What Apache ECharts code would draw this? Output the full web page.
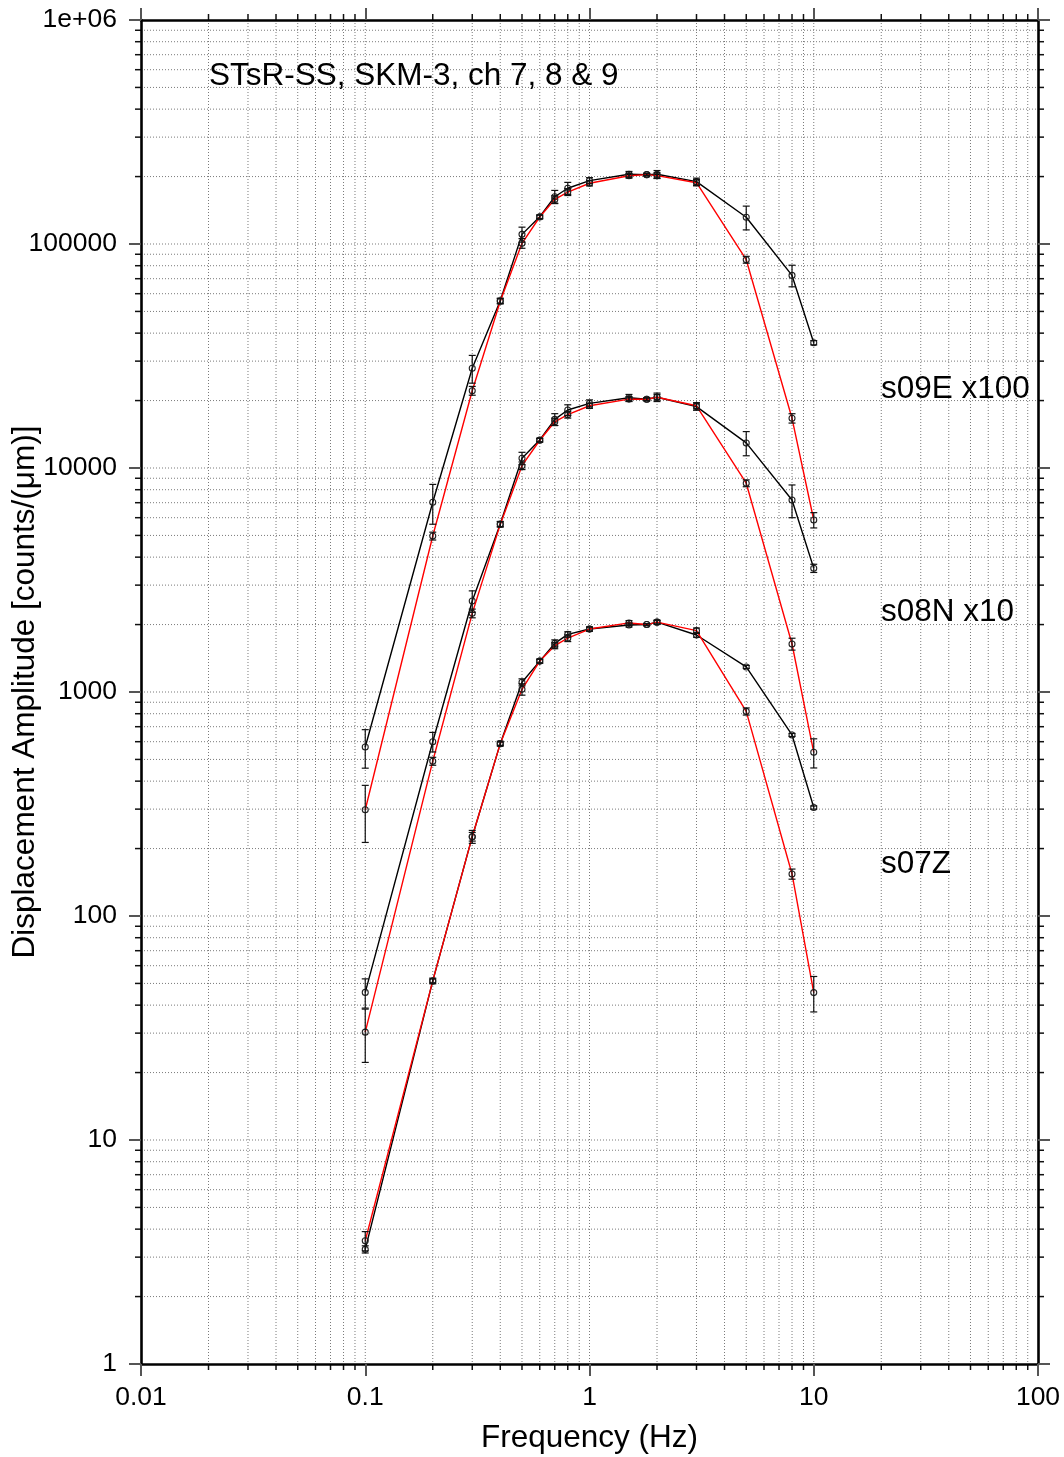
<!DOCTYPE html>
<html><head><meta charset="utf-8">
<script src="https://cdn.jsdelivr.net/npm/echarts@6/dist/echarts.min.js"></script>
<style>html,body{margin:0;padding:0;background:#fff}#c{width:1064px;height:1457px}</style>
</head><body><div id="c"></div>
<script>
// ---------------- data ----------------
const freqs = [0.1, 0.2, 0.3, 0.4, 0.5, 0.6, 0.7, 0.8, 1, 1.5, 1.8, 2, 3, 5, 8, 10];

// s09E (plotted x100)
const s09E_black     = [568, 7030, 27870, 55800, 110400, 132400, 162500, 177400, 191800, 204800, 204000, 204800, 189800, 131600, 72400, 36250];
const s09E_black_err = [111, 1420, 3950, 1500, 8500, 2500, 11000, 11000, 6000, 6000, 3000, 8000, 7000, 16000, 8000, 800];
const s09E_red       = [298, 4970, 22130, 55500, 100700, 132000, 158200, 170600, 186700, 201800, 204000, 202000, 187800, 85100, 16670, 5860];
const s09E_red_err   = [85, 200, 1000, 1500, 5000, 2500, 6000, 6000, 5000, 5000, 2000, 6000, 6000, 3000, 800, 460];

// s08N (plotted x10)
const s08N_black     = [45.6, 600, 2548, 5623, 11050, 13340, 16480, 18150, 19440, 20600, 20270, 20700, 18800, 12940, 7200, 3567];
const s08N_black_err = [6.8, 60, 280, 150, 700, 250, 1000, 1000, 700, 700, 300, 900, 700, 1600, 1200, 150];
const s08N_red       = [30.3, 491, 2244, 5600, 10240, 13300, 16080, 17300, 18960, 20300, 20270, 20700, 18960, 8550, 1638, 538];
const s08N_red_err   = [8.1, 20, 100, 150, 400, 250, 600, 600, 500, 500, 300, 600, 600, 300, 100, 80];

// s07Z
const s07Z_black     = [3.25, 51.3, 226, 588, 1105, 1374, 1649, 1808, 1910, 1990, 2000, 2050, 1796, 1294, 643, 305];
const s07Z_black_err = [0.12, 1, 10, 10, 40, 25, 60, 50, 40, 40, 20, 40, 40, 20, 10, 5];
const s07Z_red       = [3.55, 51.3, 226, 588, 1028, 1374, 1610, 1739, 1910, 2034, 2000, 2050, 1880, 819, 154, 45.5];
const s07Z_red_err   = [0.35, 1.5, 15, 15, 60, 30, 50, 60, 40, 50, 20, 40, 50, 30, 8, 8.2];

const xTickValues = [0.01, 0.1, 1, 10, 100];
const xTickLabels = ['0.01', '0.1', '1', '10', '100'];
const yTickValues = [1, 10, 100, 1000, 10000, 100000, 1000000];
const yTickLabels = ['1', '10', '100', '1000', '10000', '100000', '1e+06'];

const plotTitle = 'STsR-SS, SKM-3, ch 7, 8 & 9';
const curveNames = ['s09E x100', 's08N x10', 's07Z'];
const xAxisTitle = 'Frequency (Hz)';
const yAxisTitle = 'Displacement Amplitude [counts/(\u03bcm)]';

// ---------------- chart ----------------
const FONT = '"Liberation Sans", Arial, Helvetica, sans-serif';
const chart = echarts.init(document.getElementById('c'), null, {renderer: 'canvas'});

function pair(ys) { return freqs.map((f, i) => [f, ys[i]]); }
function errData(ys, es) { return freqs.map((f, i) => [f, ys[i], es[i]]); }

function lineSeries(ys, color, z) {
  return {
    type: 'line', data: pair(ys), z: z,
    symbol: 'circle', symbolSize: 6,
    itemStyle: {color: 'rgba(255,255,255,0)', borderColor: '#222', borderWidth: 1.1},
    lineStyle: {color: color, width: 1.4},
    animation: false, silent: true
  };
}
function errSeries(ys, es) {
  return {
    type: 'custom', data: errData(ys, es), z: 5, clip: false, animation: false, silent: true,
    renderItem: function (params, api) {
      const x = api.value(0), v = api.value(1), e = api.value(2);
      const lo = Math.max(v - e, 1e-9);
      const p1 = api.coord([x, v + e]);
      const p2 = api.coord([x, lo]);
      const w = 3.5;
      const st = {stroke: '#111', lineWidth: 1.2, fill: null};
      return {type: 'group', children: [
        {type: 'line', shape: {x1: p1[0], y1: p1[1], x2: p2[0], y2: p2[1]}, style: st},
        {type: 'line', shape: {x1: p1[0] - w, y1: p1[1], x2: p1[0] + w, y2: p1[1]}, style: st},
        {type: 'line', shape: {x1: p2[0] - w, y1: p2[1], x2: p2[0] + w, y2: p2[1]}, style: st}
      ]};
    }
  };
}

// grid lines + minor ticks drawn through axis scales
const gridSeries = {
  type: 'custom', data: [[1, 1]], z: 0, clip: false, animation: false, silent: true,
  renderItem: function (params, api) {
    const ch = [];
    const gst = {stroke: '#7a7a7a', lineWidth: 1, lineDash: [1, 2], fill: null};
    const tst = {stroke: '#111', lineWidth: 1.5, fill: null};
    const xMin = 0.01, xMax = 100, yMin = 1, yMax = 1e6;
    const top = api.coord([xMin, yMax])[1], bot = api.coord([xMin, yMin])[1];
    const lef = api.coord([xMin, yMin])[0], rig = api.coord([xMax, yMin])[0];
    for (let k = -2; k <= 1; k++) {
      for (let m = 1; m <= 9; m++) {
        const v = m * Math.pow(10, k);
        if (v <= xMin || v >= xMax) continue;
        const px = api.coord([v, yMin])[0];
        ch.push({type: 'line', shape: {x1: px, y1: top, x2: px, y2: bot}, style: gst});
        if (m > 1) {
          ch.push({type: 'line', shape: {x1: px, y1: bot, x2: px, y2: bot + 6}, style: tst});
          ch.push({type: 'line', shape: {x1: px, y1: top, x2: px, y2: top - 6}, style: tst});
        }
      }
    }
    for (let k = 0; k <= 5; k++) {
      for (let m = 1; m <= 9; m++) {
        const v = m * Math.pow(10, k);
        if (v <= yMin || v >= yMax) continue;
        const py = api.coord([xMin, v])[1];
        ch.push({type: 'line', shape: {x1: lef, y1: py, x2: rig, y2: py}, style: gst});
        if (m > 1) {
          ch.push({type: 'line', shape: {x1: lef, y1: py, x2: lef - 6, y2: py}, style: tst});
          ch.push({type: 'line', shape: {x1: rig, y1: py, x2: rig + 6, y2: py}, style: tst});
        }
      }
    }
    return {type: 'group', children: ch};
  }
};

function labelFrom(values, labels) {
  return function (val) {
    const k = Math.round(Math.log10(val));
    for (let i = 0; i < values.length; i++) {
      if (Math.round(Math.log10(values[i])) === k) return labels[i];
    }
    return '';
  };
}

const axisLineStyle = {lineStyle: {color: '#000', width: 2.6}};
const majorTick = {show: true, inside: false, length: 12, lineStyle: {color: '#555', width: 2}};

const option = {
  backgroundColor: '#fff',
  animation: false,
  textStyle: {fontFamily: FONT},
  grid: {left: 141, right: 26, top: 20, bottom: 93, containLabel: false, outerBoundsMode: 'none'},
  xAxis: [
    {type: 'log', logBase: 10, min: 0.01, max: 100, position: 'bottom',
     axisLine: axisLineStyle, axisTick: majorTick, splitLine: {show: false},
     axisLabel: {color: '#000', fontSize: 26.5, fontFamily: FONT, margin: 20, formatter: labelFrom(xTickValues, xTickLabels)},
     name: xAxisTitle, nameLocation: 'middle', nameGap: 58, nameMoveOverlap: false,
     nameTextStyle: {color: '#000', fontSize: 31.5, fontFamily: FONT}},
    {type: 'log', logBase: 10, min: 0.01, max: 100, position: 'top',
     axisLine: axisLineStyle, axisTick: majorTick, splitLine: {show: false}, axisLabel: {show: false}}
  ],
  yAxis: [
    {type: 'log', logBase: 10, min: 1, max: 1000000, position: 'left',
     axisLine: axisLineStyle, axisTick: majorTick, splitLine: {show: false},
     axisLabel: {color: '#000', fontSize: 26.5, fontFamily: FONT, margin: 24, formatter: labelFrom(yTickValues, yTickLabels)},
     name: yAxisTitle, nameLocation: 'middle', nameGap: 100, nameRotate: 90, nameMoveOverlap: false,
     nameTextStyle: {color: '#000', fontSize: 31.5, fontFamily: FONT}},
    {type: 'log', logBase: 10, min: 1, max: 1000000, position: 'right',
     axisLine: axisLineStyle, axisTick: majorTick, splitLine: {show: false}, axisLabel: {show: false}}
  ],
  graphic: [
    {type: 'text', left: 209, top: 60, z: 100, style: {text: plotTitle, fill: '#000', font: '31.5px ' + FONT}},
    {type: 'text', left: 881, top: 373, z: 100, style: {text: curveNames[0], fill: '#000', font: '31.5px ' + FONT}},
    {type: 'text', left: 881, top: 596, z: 100, style: {text: curveNames[1], fill: '#000', font: '31.5px ' + FONT}},
    {type: 'text', left: 881, top: 848, z: 100, style: {text: curveNames[2], fill: '#000', font: '31.5px ' + FONT}}
  ],
  series: [
    gridSeries,
    lineSeries(s09E_black, '#000', 2),
    lineSeries(s08N_black, '#000', 2),
    lineSeries(s07Z_black, '#000', 2),
    lineSeries(s09E_red, '#ff0000', 3),
    lineSeries(s08N_red, '#ff0000', 3),
    lineSeries(s07Z_red, '#ff0000', 3),
    errSeries(s09E_black, s09E_black_err),
    errSeries(s09E_red, s09E_red_err),
    errSeries(s08N_black, s08N_black_err),
    errSeries(s08N_red, s08N_red_err),
    errSeries(s07Z_black, s07Z_black_err),
    errSeries(s07Z_red, s07Z_red_err)
  ]
};
chart.setOption(option);
</script>
</body></html>
